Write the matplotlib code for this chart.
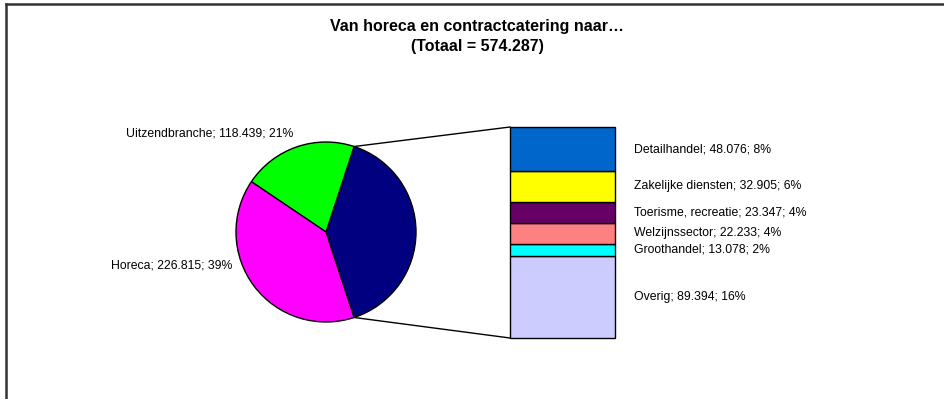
import numpy as np
import matplotlib
matplotlib.use("Agg")
import matplotlib.pyplot as plt

plt.rcParams['font.family'] = ['Liberation Sans', 'DejaVu Sans']

# pie slices (the first one is split out into the bar)
pie_labels = ["Uitzendbranche", "Horeca"]
pie_values = [118.439, 226.815]
pie_colors = ["#00FF00", "#FF00FF"]
other_color = "#000080"

# bar segments, top to bottom
bar_labels = ["Detailhandel", "Zakelijke diensten", "Toerisme, recreatie",
              "Welzijnssector", "Groothandel", "Overig"]
bar_values = [48.076, 32.905, 23.347, 22.233, 13.078, 89.394]
bar_colors = ["#0066CC", "#FFFF00", "#660066", "#FF8080", "#00FFFF", "#CCCCFF"]

W, H = 945, 399
fig = plt.figure(figsize=(W / 100, H / 100), dpi=100)
ax = fig.add_axes([0, 0, 1, 1])
ax.set_xlim(0, W)
ax.set_ylim(0, H)
ax.axis('off')

LABEL_FS = 8.8

def fmt(v):
    return "{:.3f}".format(v)

other = sum(bar_values)
total = other + sum(pie_values)

# pie
cx, cy, r = 326, 167, 90
vals = [other] + pie_values
start = -other / total * 180
ax.pie(vals, colors=[other_color] + pie_colors, startangle=start,
       center=(cx, cy), radius=r, counterclock=True,
       wedgeprops=dict(edgecolor='black', linewidth=1))
ax.set_xlim(0, W)
ax.set_ylim(0, H)
ax.set_aspect('auto')

pct = [round(v / total * 100) for v in pie_values]
ax.text(293, H - 133, "{}; {}; {}%".format(pie_labels[0], fmt(pie_values[0]), pct[0]),
        ha='right', va='center', fontsize=LABEL_FS)
ax.text(232, H - 266, "{}; {}; {}%".format(pie_labels[1], fmt(pie_values[1]), pct[1]),
        ha='right', va='center', fontsize=LABEL_FS)

# stacked bar
bx0, bx1 = 510, 615
by0, by1 = H - 338, H - 127
scale = (by1 - by0) / other
bottom = by0
centers = []
for v, c in zip(bar_values[::-1], bar_colors[::-1]):
    ax.bar((bx0 + bx1) / 2, v * scale, width=bx1 - bx0, bottom=bottom,
           color=c, edgecolor='black', linewidth=1)
    centers.append(bottom + v * scale / 2)
    bottom += v * scale
centers = centers[::-1]

for lab, v, yc in zip(bar_labels, bar_values, centers):
    ax.text(634, yc, "{}; {}; {}%".format(lab, fmt(v), round(v / total * 100)),
            ha='left', va='center', fontsize=LABEL_FS)

# connector lines from the split slice to the bar
half = np.radians(other / total * 180)
ax.plot([cx + r * np.cos(half), bx0], [cy + r * np.sin(half), by1], color='black', lw=1)
ax.plot([cx + r * np.cos(-half), bx0], [cy + r * np.sin(-half), by0], color='black', lw=1)

# title
ax.text(477, H - 26, "Van horeca en contractcatering naar\u2026", ha='center', va='center',
        fontsize=11.5, fontweight='bold')
ax.text(477, H - 47, "(Totaal = 574.287)", ha='center', va='center',
        fontsize=11.5, fontweight='bold')

# outer frame
ax.plot([5.5, W], [H - 3.5, H - 3.5], color='#333333', lw=1.8, clip_on=False)
ax.plot([5.5, 5.5], [0, H - 3.5], color='#333333', lw=1.8, clip_on=False)

fig.savefig("out.png", dpi=100)
